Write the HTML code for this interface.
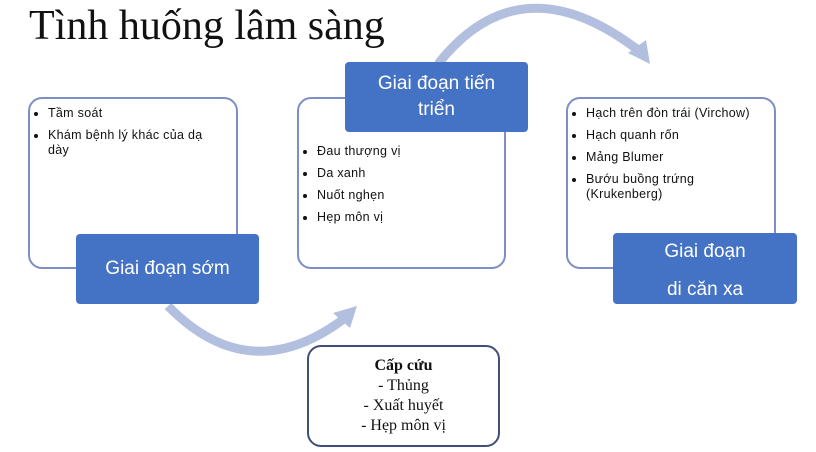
<!DOCTYPE html>
<html><head><meta charset="utf-8"><style>
body{margin:0;width:816px;height:452px;background:#fff;position:relative;overflow:hidden;font-family:"Liberation Sans","DejaVu Sans",sans-serif}
.t{position:absolute;left:29px;top:2px;font-family:"Liberation Serif",serif;font-size:42px;color:#111;white-space:nowrap}
.w{position:absolute;background:#fff;border:2px solid #7d8fc4;border-radius:14px;box-sizing:border-box}
.b{position:absolute;background:#4472c4;border-radius:4px;color:#fff;text-align:center;box-sizing:border-box;font-size:19px}
ul{margin:0;padding:0 0 0 18px;font-size:12.5px;color:#111;line-height:15px;letter-spacing:0.3px}
li{margin-bottom:7px}
svg{position:absolute;left:0;top:0}
.c{position:absolute;left:307px;top:345px;width:193px;height:102px;border:2px solid #3f4f7a;border-radius:14px;box-sizing:border-box;background:#fff;font-family:"Liberation Serif",serif;font-size:16px;text-align:center;line-height:20px;padding-top:9px;color:#111}
</style></head><body>
<div class="t">Tình huống lâm sàng</div>
<svg width="816" height="452">
<path d="M168 306 Q 250 390 345 318" fill="none" stroke="#b3bfdf" stroke-width="9"/>
<polygon points="357,306 333,313 350,328" fill="#b3bfdf"/>
<path d="M438 64 Q 520 -40 638 50" fill="none" stroke="#b3bfdf" stroke-width="9"/>
<polygon points="650,64 628,53 646,40" fill="#b3bfdf"/>
</svg>
<div class="w" style="left:28px;top:97px;width:210px;height:172px;padding:7px 0 0 0"><ul style="width:175px"><li>Tầm soát</li><li>Khám bệnh lý khác của dạ<br>dày</li></ul></div>
<div class="b" style="left:76px;top:234px;width:183px;height:70px;line-height:70px">Giai đoạn sớm</div>
<div class="w" style="left:297px;top:97px;width:209px;height:172px;padding:45px 0 0 0"><ul style="width:175px"><li>Đau thượng vị</li><li>Da xanh</li><li>Nuốt nghẹn</li><li>Hẹp môn vị</li></ul></div>
<div class="b" style="left:345px;top:62px;width:183px;height:70px;line-height:26px;padding-top:9px">Giai đoạn tiến<br>triển</div>
<div class="w" style="left:566px;top:97px;width:210px;height:172px;padding:7px 0 0 0"><ul><li>Hạch trên đòn trái (Virchow)</li><li>Hạch quanh rốn</li><li>Mảng Blumer</li><li>Bướu buồng trứng<br>(Krukenberg)</li></ul></div>
<div class="b" style="left:613px;top:233px;width:184px;height:71px;line-height:38px;padding-top:0">Giai đoạn<br>di căn xa</div>
<div class="c"><b>Cấp cứu</b><br>- Thủng<br>- Xuất huyết<br>- Hẹp môn vị</div>
</body></html>
